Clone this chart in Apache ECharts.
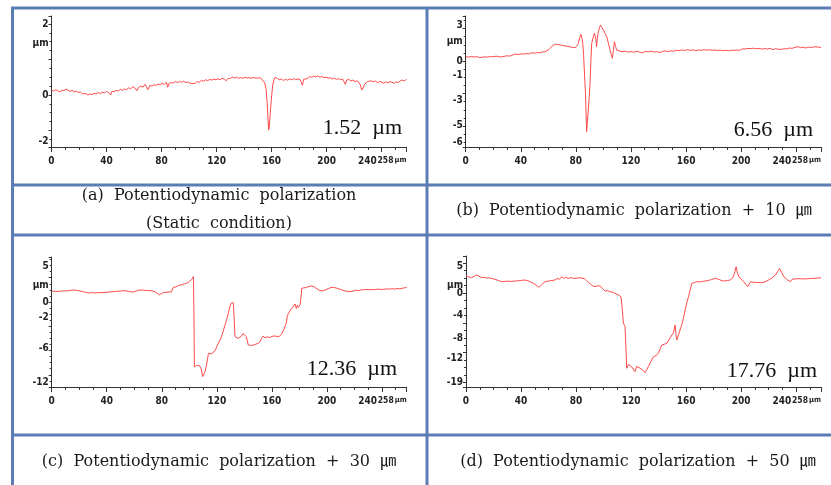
<!DOCTYPE html>
<html>
<head>
<meta charset="utf-8">
<script src="https://cdn.jsdelivr.net/npm/echarts@6/dist/echarts.min.js"></script>
<style>html,body{margin:0;padding:0;background:#fff}#c{width:831px;height:485px}</style>
</head>
<body>
<div id="c"></div>
<script>
// ---- data (x in µm along the scan, y = height in µm) ----
const profileA = [[0,0.14],[1.5,0.11],[3,0.15],[4.5,0.12],[6,0.09],[7.5,0.13],[9,0.12],[10.5,0.17],[12,0.14],[13.5,0.1],[15,0.13],[16.5,0.09],[18,0.11],[19.5,0.07],[21,0.09],[22.5,0.03],[23.5,-0.02],[25,0.04],[26.5,0.0],[28,0.03],[29.5,0.01],[31,0.05],[32.5,0.03],[34,0.07],[35.5,0.04],[37,0.08],[38.5,0.06],[40,0.1],[41.5,0.07],[43,0.0],[44,0.11],[45.5,0.09],[47,0.13],[48.5,0.11],[50,0.16],[51.5,0.13],[53,0.17],[54.5,0.15],[56,0.2],[57.5,0.18],[59,0.23],[60.5,0.2],[62,0.12],[63.5,0.22],[65,0.25],[66.5,0.22],[68,0.3],[69,0.23],[70,0.15],[71.5,0.27],[73,0.25],[74.5,0.29],[76,0.27],[77.5,0.31],[79,0.29],[80.5,0.33],[82,0.3],[83.5,0.36],[84.5,0.22],[85.5,0.33],[87,0.35],[88.5,0.34],[90,0.38],[91.5,0.35],[93,0.38],[94.5,0.36],[96,0.39],[97.5,0.35],[99,0.37],[100.5,0.34],[102,0.32],[103,0.28],[104.5,0.33],[106,0.38],[107.5,0.36],[109,0.41],[110.5,0.39],[112,0.43],[113.5,0.4],[115,0.44],[116.5,0.42],[118,0.45],[119.5,0.43],[121,0.46],[122.5,0.43],[124,0.47],[125.5,0.45],[127,0.4],[128.5,0.47],[130,0.46],[131.5,0.51],[133,0.48],[134.5,0.5],[136,0.47],[137.5,0.49],[139,0.47],[140.5,0.5],[142,0.48],[143.5,0.49],[145,0.47],[146.5,0.49],[148,0.48],[149.5,0.47],[151,0.49],[152.5,0.46],[153.8,0.42],[155,0.34],[156,0.15],[156.7,-0.2],[157.3,-0.65],[157.8,-0.99],[158.3,-0.9],[158.8,-0.6],[159.3,-0.35],[160,-0.02],[160.8,0.28],[161.6,0.42],[162.5,0.5],[164,0.47],[165.5,0.43],[167,0.45],[168.5,0.41],[170,0.44],[171.5,0.42],[173,0.45],[174.5,0.43],[176,0.46],[177.5,0.43],[179,0.45],[180.5,0.44],[181.5,0.36],[182.4,0.27],[183.2,0.44],[184.5,0.48],[186,0.46],[187.5,0.52],[189,0.5],[190.5,0.53],[192,0.51],[193.5,0.54],[195,0.5],[196.5,0.52],[198,0.49],[199.5,0.5],[201,0.47],[202.5,0.49],[204,0.45],[205.5,0.47],[207,0.44],[208.5,0.46],[210,0.43],[211.5,0.45],[212.5,0.38],[213.5,0.3],[214.5,0.42],[216,0.44],[217.5,0.4],[219,0.42],[220.5,0.38],[222,0.4],[223.5,0.35],[224.5,0.28],[225.5,0.14],[226.5,0.2],[227.5,0.3],[228.5,0.25],[229.7,0.38],[231,0.35],[232.5,0.4],[234,0.37],[235.5,0.39],[237,0.35],[238.5,0.38],[240,0.36],[241.5,0.33],[243,0.37],[244.5,0.34],[246,0.38],[247.5,0.36],[249,0.33],[250.5,0.37],[252,0.35],[253.5,0.4],[255,0.42],[256.5,0.4],[258,0.44]];

const profileB = [[0,0.27],[2,0.24],[4,0.28],[6,0.25],[8,0.27],[10,0.22],[12,0.23],[14,0.26],[16,0.24],[18,0.28],[20,0.26],[22,0.3],[24,0.27],[26,0.25],[28,0.29],[30,0.32],[32,0.3],[34,0.36],[36,0.43],[38,0.4],[40,0.44],[42,0.42],[44,0.46],[46,0.44],[48,0.51],[50,0.48],[52,0.52],[54,0.5],[56,0.56],[57.6,0.57],[59,0.62],[60,0.68],[61.5,0.8],[63,0.93],[65,1.03],[67,1.02],[69,0.98],[71,0.94],[73,0.92],[75,0.88],[77,0.85],[79.4,0.82],[81,0.95],[81.8,1.09],[82.8,1.45],[83.7,1.64],[84.5,1.35],[85,1.09],[85.6,0.4],[86,-0.35],[86.5,-1.2],[87,-1.99],[87.4,-3.2],[87.8,-4.35],[88.4,-3.7],[89,-3.01],[89.7,-2.2],[90.3,-1.37],[91,0.2],[91.5,1.09],[92.7,1.5],[93.5,1.72],[94,1.8],[94.6,1.3],[95,0.88],[95.6,1.4],[96.3,1.8],[97,2.0],[97.8,2.21],[99,2.05],[100,1.91],[101.2,1.7],[102.4,1.5],[103.6,1.1],[104.8,0.68],[105.7,0.4],[106.5,0.17],[107.3,0.7],[108,1.19],[108.8,0.9],[109.6,0.68],[111,0.6],[113.3,0.57],[115.5,0.6],[118,0.55],[120,0.58],[122,0.54],[124,0.6],[126,0.56],[128,0.5],[130,0.58],[132.6,0.57],[135,0.6],[137,0.55],[139,0.58],[141,0.52],[143,0.6],[145,0.62],[147,0.58],[149,0.63],[151,0.6],[153,0.66],[155,0.64],[156.8,0.68],[159,0.65],[161,0.7],[163,0.66],[165,0.69],[167,0.64],[169,0.68],[171,0.66],[173,0.7],[175,0.67],[177,0.69],[179,0.66],[181,0.68],[183,0.65],[185,0.67],[187,0.64],[189,0.66],[191,0.63],[193,0.67],[195,0.65],[197,0.68],[199,0.66],[201,0.75],[203,0.74],[205,0.78],[207,0.76],[209,0.79],[211,0.75],[213,0.78],[215,0.73],[217,0.77],[219,0.74],[221,0.78],[223,0.7],[225,0.76],[227,0.72],[229.4,0.72],[231,0.76],[233,0.74],[235,0.8],[237,0.78],[239,0.84],[241.5,0.88],[243,0.82],[245,0.86],[247,0.8],[249,0.85],[251,0.83],[253.6,0.88],[255,0.94],[256.5,0.85],[258,0.84]];

const profileC = [[0,1.36],[3,1.3],[6,1.33],[9,1.38],[10.9,1.36],[13,1.42],[15.7,1.48],[18,1.44],[20,1.38],[23,1.27],[24.5,1.2],[25.9,0.99],[27,1.1],[29,1.17],[31,1.12],[33,1.15],[35,1.15],[38,1.18],[41,1.22],[44,1.26],[47.2,1.32],[50,1.35],[52,1.4],[54,1.36],[56,1.3],[59.3,1.23],[61.5,1.35],[64,1.48],[67,1.46],[69,1.42],[71.4,1.4],[73,1.36],[75,1.27],[76.5,1.1],[78.2,0.87],[79.5,0.95],[81,1.17],[83,1.2],[85,1.22],[87,1.27],[88,1.5],[88.4,1.81],[90,1.85],[91.5,2.0],[93.2,2.1],[95,2.12],[96.5,2.25],[98,2.31],[100,2.5],[101.8,2.8],[103,3.13],[103.4,-2.0],[103.7,-8.03],[104.5,-7.9],[105.4,-7.83],[106.5,-8.0],[107.2,-7.85],[108,-7.94],[108.6,-8.24],[109.2,-8.0],[109.7,-9.23],[110.5,-9.0],[111.5,-8.6],[112.5,-7.8],[113.3,-7.0],[113.9,-6.34],[115,-6.29],[116.2,-6.4],[117.5,-6.55],[118.8,-6.0],[120.5,-5.3],[122.3,-4.7],[124,-4.0],[125.5,-3.1],[127.1,-2.22],[128.5,-1.3],[129.5,-0.6],[130.3,-0.16],[131.2,-0.05],[132,-0.1],[132.6,-2.0],[133.2,-4.28],[134.5,-4.1],[135.5,-4.5],[136.6,-4.49],[138,-4.2],[139,-3.9],[140.3,-3.79],[141.5,-4.3],[142.8,-5.31],[144,-5.2],[145.2,-5.38],[146.4,-5.31],[148,-5.25],[150,-5.1],[151.5,-4.9],[152.5,-4.5],[153.7,-4.2],[155,-4.45],[156.5,-4.3],[158.5,-4.4],[160,-4.25],[161.2,-4.45],[162.2,-4.2],[163.5,-4.1],[165,-4.3],[165.8,-4.28],[167,-4.0],[168.5,-3.5],[169.5,-3.05],[170.5,-2.6],[171.2,-1.8],[172,-1.4],[172.8,-1.6],[173.5,-1.0],[174.4,-1.2],[175.5,-0.6],[176.8,-0.25],[177.8,-0.8],[178.5,-0.4],[179.3,-0.66],[180.5,-0.35],[181.2,0.6],[181.7,1.69],[183.5,1.75],[185.3,1.81],[187,1.92],[189,1.98],[191,1.85],[193,1.6],[195,1.4],[197,1.38],[199,1.5],[201,1.65],[203,1.78],[204.7,1.81],[207,1.72],[209,1.6],[211,1.48],[213,1.38],[215,1.3],[216.8,1.27],[219,1.35],[221,1.45],[223,1.38],[225,1.5],[227,1.52],[229,1.56],[231,1.5],[233,1.55],[235,1.52],[237,1.6],[239,1.55],[241,1.56],[243,1.62],[245,1.58],[247,1.64],[249,1.6],[251,1.66],[253,1.62],[255,1.7],[256.5,1.75],[258,1.81]];

const profileD = [[0,2.85],[2,2.7],[4.1,2.57],[6,2.8],[7.7,3.02],[9.5,2.8],[11.4,2.57],[13,2.62],[15,2.5],[16.5,2.55],[18.7,2.46],[21,2.3],[23.5,2.1],[26,1.9],[28.5,1.95],[31,1.98],[33.5,1.95],[35.6,2.01],[38,2.05],[40.5,2.12],[43,2.18],[45,2.05],[47,1.85],[49,1.62],[51,1.3],[53,0.95],[55,1.4],[57.4,1.9],[60,2.0],[62.5,2.1],[64.7,2.18],[66.5,2.45],[68,2.3],[69.5,2.74],[71,2.45],[72.5,2.6],[74.4,2.46],[76.5,2.58],[78,2.45],[79.2,2.63],[81,2.5],[83,2.55],[84,2.46],[86,2.4],[87.5,2.1],[89,1.73],[90.5,1.5],[92,1.2],[93.8,1.06],[95.5,1.2],[97.5,1.17],[99,0.8],[101,0.34],[103,0.4],[104.5,0.2],[106.5,0.15],[108.3,-0.06],[110.5,-0.3],[112.6,-0.61],[113.5,-2.5],[114.4,-5.08],[115.6,-5.64],[116.2,-9.0],[116.8,-12.61],[118,-12.0],[119.2,-11.78],[120.5,-12.4],[121.7,-12.34],[122.8,-13.18],[124,-12.3],[125.3,-12.06],[126.5,-12.6],[127.7,-12.9],[128.9,-13.0],[130.1,-13.35],[131.3,-12.9],[132.5,-12.34],[134.3,-11.5],[136.2,-10.67],[138,-10.5],[139.8,-10.11],[141,-9.4],[142.3,-8.71],[144,-8.6],[145.9,-8.43],[147.8,-7.7],[149.6,-7.04],[150.8,-6.6],[152,-5.36],[152.6,-7.0],[153.2,-7.87],[154.2,-7.2],[155.2,-6.48],[156,-5.8],[156.8,-5.36],[158,-4.2],[159.3,-2.85],[160.5,-1.6],[161.7,-0.61],[163,0.6],[164.1,1.62],[166,1.75],[167.8,1.9],[170,1.85],[172,1.95],[173.8,2.01],[176,2.1],[178.5,2.25],[181.1,2.46],[183.5,2.3],[186,2.07],[188,2.0],[190,2.1],[192,2.18],[194,2.6],[195.5,3.6],[196.3,4.41],[197.2,3.4],[198.3,2.74],[200,2.3],[201.9,1.9],[203.5,1.4],[204.8,1.06],[205.8,1.5],[206.7,1.9],[209,1.8],[212,1.75],[215.2,1.73],[218,1.95],[220,2.18],[222.5,2.55],[224.9,3.02],[226.5,3.6],[227.8,4.13],[229.5,3.4],[231,2.74],[233.5,2.2],[235.8,1.9],[237,2.3],[238.3,2.46],[241,2.4],[244,2.38],[246.7,2.35],[249.5,2.42],[252,2.45],[255,2.5],[258,2.57]];

// x tick labels (shared); 240 and the scan end 258 are set right-aligned as in the profiler output
const xTickValues = [0, 40, 80, 120, 160, 200];
const xTickTexts  = ['0', '40', '80', '120', '160', '200'];
const x240Value = 240, x240Text = '240';
const xEndValue = 258, xEndText = '258';
const xUnit = 'µm';

// y tick labels as printed by the profiler software (value where printed, text)
const yTickValuesA = [2.0, 1.44, 0, -1.32];
const yTickTextsA  = ['2', 'µm', '0', '-2'];
const yTickValuesB = [2.21, 1.23, 0, -0.86, -2.40, -3.94, -4.98];
const yTickTextsB  = ['3', 'µm', '0', '-1', '-3', '-5', '-6'];
const yTickValuesC = [4.45, 2.10, 0, -1.85, -5.69, -9.89];
const yTickTextsC  = ['5', 'µm', '0', '-2', '-6', '-12'];
const yTickValuesD = [4.52, 1.34, 0, -3.69, -7.54, -10.89, -14.91];
const yTickTextsD  = ['5', 'µm', '0', '-4', '-8', '-12', '-19'];

// y extents shown
const yRangeA = [-1.465, 2.225];
const yRangeB = [-5.29, 2.77];
const yRangeC = [-10.51, 5.56];
const yRangeD = [-15.75, 6.2];

// annotations
const depthTexts = ['1.52  µm', '6.56  µm', '12.36  µm', '17.76  µm'];
const captions = [
  ['(a)  Potentiodynamic  polarization', '(Static  condition)'],
  ['(b)  Potentiodynamic  polarization  +  10  ㎛'],
  ['(c)  Potentiodynamic  polarization  +  30  ㎛'],
  ['(d)  Potentiodynamic  polarization  +  50  ㎛']
];

// ---- chart ----
const chart = echarts.init(document.getElementById('c'), null, {renderer: 'canvas'});
const axisFont = "'Liberation Sans Narrow', 'DejaVu Sans Condensed', 'Arial Narrow', sans-serif";
const axisColor = '#333';
const lineColor = '#ff4a4a';
const labelBase = {fontFamily: axisFont, fontWeight: 'bold', fontSize: 10, color: '#222'};

const grids = [
  {left: 51.5, right: 424.5, top: 16, bottom: 338},
  {left: 465.7, right: 10, top: 16, bottom: 338},
  {left: 51.7, right: 424.3, top: 257, bottom: 98},
  {left: 466, right: 10, top: 256, bottom: 98}
].map(g => Object.assign({outerBoundsMode: 'none', containLabel: false}, g));

function xAxis(i) {
  return {
    type: 'value', gridIndex: i, min: 0, max: 258, interval: 40,
    axisLine: {show: true, onZero: false, lineStyle: {color: axisColor, width: 1}},
    axisTick: {show: true, length: 5, lineStyle: {color: axisColor}},
    minorTick: {show: true, splitNumber: 4, length: 3, lineStyle: {color: axisColor}},
    splitLine: {show: false},
    axisLabel: Object.assign({
      customValues: xTickValues, margin: 9, showMinLabel: true, showMaxLabel: true, hideOverlap: false,
      formatter: v => {
        const k = xTickValues.findIndex(t => Math.abs(t - v) < 1e-6);
        return k >= 0 ? xTickTexts[k] : '';
      }
    }, labelBase)
  };
}
// companion axes (same scale, same place) each carrying one right-aligned label
function xSingleLabelAxis(i, value, formatter, rich) {
  return {
    type: 'value', gridIndex: i, min: 0, max: 258, position: 'bottom',
    axisLine: {show: false, onZero: false}, axisTick: {show: false}, splitLine: {show: false},
    axisLabel: Object.assign({
      customValues: [value], margin: 9, showMinLabel: true, showMaxLabel: true, hideOverlap: false,
      align: 'right', rich: rich, formatter: formatter
    }, labelBase)
  };
}
const rich240 = {a: Object.assign({padding: [0, 5, 0, 0]}, labelBase)};
const endRich = {
  n: Object.assign({}, labelBase, {fontSize: 8.5}),
  u: Object.assign({padding: [0, 0, 0, 1]}, labelBase, {fontSize: 7.5})
};
function x240Axis(i) { return xSingleLabelAxis(i, x240Value, () => '{a|' + x240Text + '}', rich240); }
function xEndAxis(i) { return xSingleLabelAxis(i, xEndValue, () => '{n|' + xEndText + '}{u|' + xUnit + '}', endRich); }

function yAxis(i, range, vals, texts) {
  return {
    type: 'value', gridIndex: i, min: range[0], max: range[1],
    axisLine: {show: true, lineStyle: {color: axisColor, width: 1}},
    axisTick: {show: true, length: 3, lineStyle: {color: axisColor}},
    minorTick: {show: true, splitNumber: 4, length: 2, lineStyle: {color: axisColor}},
    splitLine: {show: false},
    axisLabel: Object.assign({
      customValues: vals, margin: 3, showMinLabel: true, showMaxLabel: true,
      formatter: v => { const k = vals.findIndex(t => Math.abs(t - v) < 1e-6); return k >= 0 ? texts[k] : ''; }
    }, labelBase)
  };
}

const profiles = [profileA, profileB, profileC, profileD];
const series = profiles.map((p, i) => ({
  type: 'line', xAxisIndex: i, yAxisIndex: i, data: p,
  showSymbol: false, symbol: 'none', smooth: false,
  lineStyle: {color: lineColor, width: 1}, silent: true
}));

const borderColor = '#5b7db3';
function hline(y) { return {type: 'line', shape: {x1: 11, y1: y, x2: 831, y2: y}, style: {stroke: borderColor, lineWidth: 3}, z: 100}; }
function vline(x) { return {type: 'line', shape: {x1: x, y1: 7, x2: x, y2: 485}, style: {stroke: borderColor, lineWidth: 3}, z: 100}; }
const serifFont = "'DejaVu Serif', 'Noto Sans CJK KR', serif";
function caption(text, x, y) {
  return {type: 'text', x: x, y: y, style: {text: text, font: "16px " + serifFont, fill: '#1a1a1a', textAlign: 'center', textVerticalAlign: 'middle'}, z: 100};
}
function depth(text, x, y) {
  return {type: 'text', x: x, y: y, style: {text: text, font: "22px 'Liberation Serif', serif", fill: '#111', textAlign: 'right', textVerticalAlign: 'middle'}, z: 100};
}

const graphic = [
  hline(8), hline(185), hline(235), hline(435),
  vline(12.5), vline(427),
  caption(captions[0][0], 219, 196), caption(captions[0][1], 219, 224),
  caption(captions[1][0], 634, 211),
  caption(captions[2][0], 219, 462),
  caption(captions[3][0], 638, 462),
  depth(depthTexts[0], 402, 128), depth(depthTexts[1], 813, 130),
  depth(depthTexts[2], 397, 369), depth(depthTexts[3], 817, 371)
];

const idx = [0, 1, 2, 3];
chart.setOption({
  animation: false,
  backgroundColor: '#fff',
  grid: grids,
  xAxis: idx.map(xAxis).concat(idx.map(x240Axis), idx.map(xEndAxis)),
  yAxis: [
    yAxis(0, yRangeA, yTickValuesA, yTickTextsA),
    yAxis(1, yRangeB, yTickValuesB, yTickTextsB),
    yAxis(2, yRangeC, yTickValuesC, yTickTextsC),
    yAxis(3, yRangeD, yTickValuesD, yTickTextsD)
  ],
  series: series,
  graphic: graphic
});
</script>
</body>
</html>
